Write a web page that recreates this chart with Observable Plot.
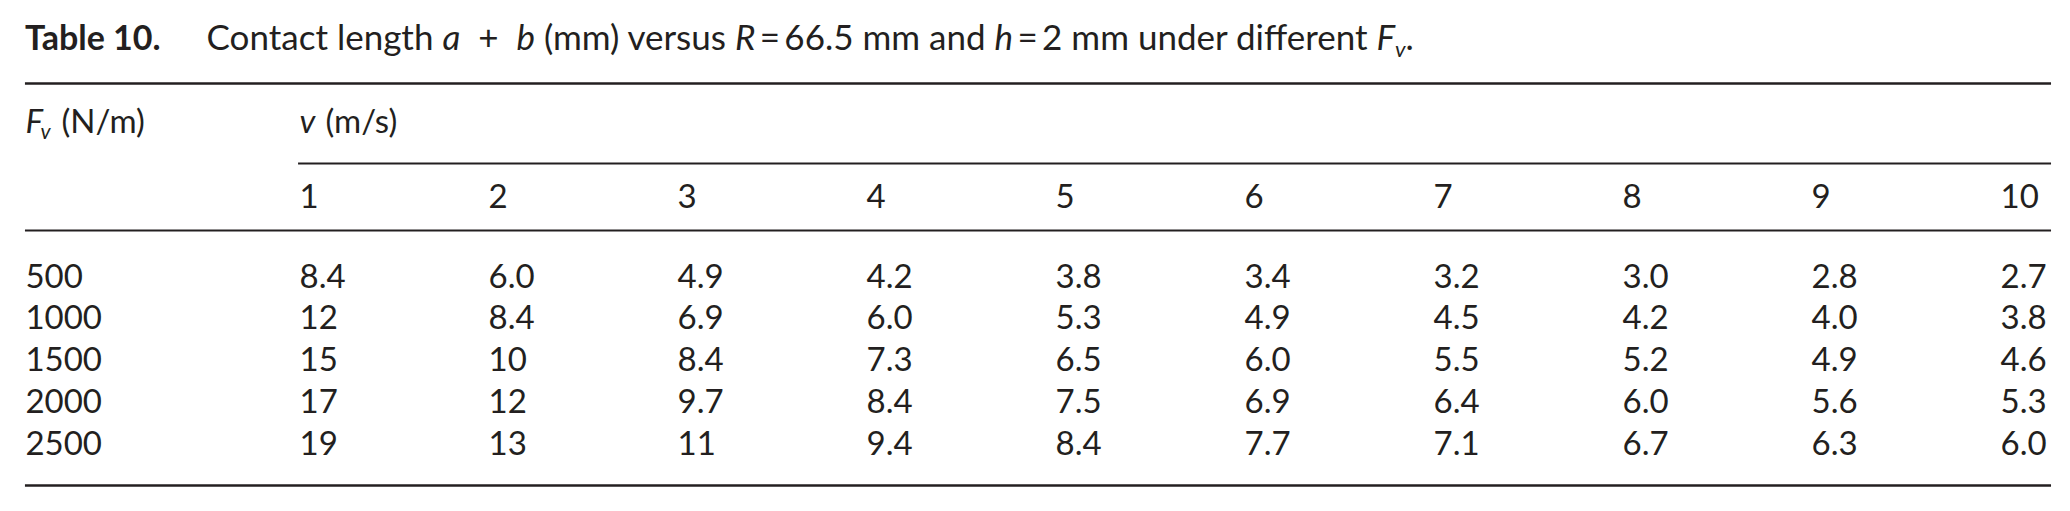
<!DOCTYPE html>
<html>
<head>
<meta charset="utf-8">
<script src="https://cdn.jsdelivr.net/npm/d3@7"></script>
<script src="https://cdn.jsdelivr.net/npm/@observablehq/plot@0.6"></script>
<style>
  html, body { margin: 0; padding: 0; background: #fff; }
  body { width: 2070px; height: 511px; overflow: hidden; font-family: Lato, "Open Sans", sans-serif; color: #231f20; }
  #title { height: 66px; box-sizing: border-box; padding: 11px 0 0 25px; font-size: 35px; line-height: 50px; white-space: nowrap; overflow: hidden; }
  #title b { font-weight: 700; font-size: 34px; }
  #title .gap { display: inline-block; width: 46px; }
  #title sub { font-size: 22px; vertical-align: -7px; line-height: 0; }
  #chart svg { display: block; }
</style>
</head>
<body>
<div id="title"><b>Table 10.</b><span class="gap"></span>Contact length <i>a</i>&nbsp; +&nbsp; <i>b</i> (mm) versus <i>R</i>&#8201;=&#8201;66.5 mm and <i>h</i>&#8201;=&#8201;2 mm under different <i>F<sub>v</sub></i>.</div>
<div id="chart"></div>
<script>
const velocities = [1, 2, 3, 4, 5, 6, 7, 8, 9, 10];          // v (m/s)
const forces = [500, 1000, 1500, 2000, 2500];                // Fv (N/m)
const len500  = [8.4, 6.0, 4.9, 4.2, 3.8, 3.4, 3.2, 3.0, 2.8, 2.7];
const len1000 = [12, 8.4, 6.9, 6.0, 5.3, 4.9, 4.5, 4.2, 4.0, 3.8];
const len1500 = [15, 10, 8.4, 7.3, 6.5, 6.0, 5.5, 5.2, 4.9, 4.6];
const len2000 = [17, 12, 9.7, 8.4, 7.5, 6.9, 6.4, 6.0, 5.6, 5.3];
const len2500 = [19, 13, 11, 9.4, 8.4, 7.7, 7.1, 6.7, 6.3, 6.0];
const lengths = [len500, len1000, len1500, len2000, len2500];

// ---- table built from the arrays ----
const cells = forces.flatMap((f, i) =>
  velocities.map((v, j) => ({force: f, row: i, v, value: lengths[i][j]}))
);
const fmt = (x) => (x >= 10 ? String(x) : x.toFixed(1));

// layout in table units: x = column (v), y = row index
const LABEL_X = -0.45;      // first column (Fv labels)
const RIGHT_X = 10.27;      // right end of rules
const ROW_FV_HEAD = -3.71;  // "Fv (N/m)" / "v (m/s)" line
const ROW_V_HEAD = -1.916;  // 1 … 10 line
const RULE_TOP = -4.886, RULE_V = -2.97, RULE_MID = -1.365, RULE_BOTTOM = 4.743;

const ink = "#231f20";
const base = {textAnchor: "start", lineAnchor: "bottom", fill: ink};

const plot = Plot.plot({
  width: 2070,
  height: 445,
  margin: 0,
  x: {type: "linear", domain: [1, 10], range: [299, 2000], axis: null},
  y: {type: "linear", domain: [-5, 5], range: [12.25, 429.75], axis: null},
  style: {fontFamily: "Lato, 'Open Sans', sans-serif", fontSize: "33px", background: "#fff", color: ink},
  marks: [
    // rules
    Plot.ruleY([RULE_TOP], {x1: LABEL_X, x2: RIGHT_X, stroke: ink, strokeWidth: 2.6}),
    Plot.ruleY([RULE_V], {x1: 0.995, x2: RIGHT_X, stroke: ink, strokeWidth: 2}),
    Plot.ruleY([RULE_MID], {x1: LABEL_X, x2: RIGHT_X, stroke: ink, strokeWidth: 2}),
    Plot.ruleY([RULE_BOTTOM], {x1: LABEL_X, x2: RIGHT_X, stroke: ink, strokeWidth: 2.6}),
    // header: Fv (N/m)
    Plot.text(["F"], {...base, x: () => LABEL_X, y: () => ROW_FV_HEAD, text: d => d, fontStyle: "italic"}),
    Plot.text(["v"], {...base, x: () => LABEL_X, y: () => ROW_FV_HEAD, text: d => d, fontStyle: "italic", fontSize: 21, dx: 15, dy: 6}),
    Plot.text(["(N/m)"], {...base, x: () => LABEL_X, y: () => ROW_FV_HEAD, text: d => d, dx: 36}),
    // header: v (m/s)
    Plot.text(["v"], {...base, x: () => 1, y: () => ROW_FV_HEAD, text: d => d, fontStyle: "italic"}),
    Plot.text(["(m/s)"], {...base, x: () => 1, y: () => ROW_FV_HEAD, text: d => d, dx: 26}),
    // column labels
    Plot.text(velocities, {...base, x: d => d, y: () => ROW_V_HEAD, text: d => String(d)}),
    // row labels
    Plot.text(forces, {...base, x: () => LABEL_X, y: (d, i) => i, text: d => String(d)}),
    // values
    Plot.text(cells, {...base, x: "v", y: "row", text: d => fmt(d.value)})
  ]
});
document.getElementById("chart").appendChild(plot);
</script>
</body>
</html>
